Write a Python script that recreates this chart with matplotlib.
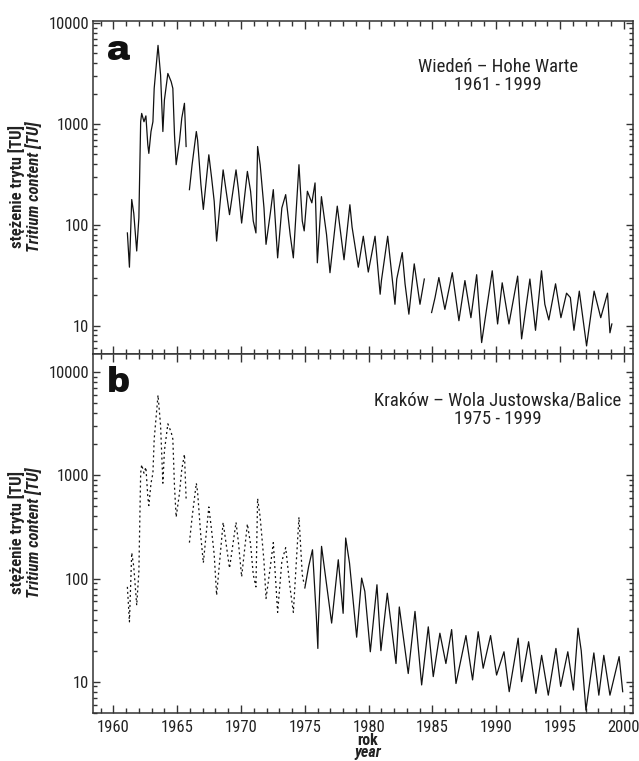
import numpy as np
import matplotlib
matplotlib.use("Agg")
import matplotlib.pyplot as plt
from matplotlib.ticker import LogLocator, FixedLocator, NullFormatter, MultipleLocator
from matplotlib import font_manager

# ---------------- data (turning points) ----------------
vienna_t = [1961.10, 1961.26, 1961.44, 1961.60, 1961.83, 1962.00, 1962.14, 1962.22, 1962.40, 1962.55,
            1962.70, 1962.78, 1962.95, 1963.10, 1963.20, 1963.50, 1963.70, 1963.88, 1964.00, 1964.27,
            1964.53, 1964.66, 1964.79, 1964.92, 1965.18, 1965.36, 1965.57, 1965.70, 1965.85, 1965.96,
            1966.17, 1966.50, 1966.60, 1966.86, 1967.05, 1967.48, 1967.70, 1967.90, 1968.09, 1968.60,
            1969.10, 1969.61, 1969.80, 1970.05, 1970.50, 1970.75, 1970.96, 1971.17, 1971.30, 1971.50,
            1971.80, 1971.96, 1972.30, 1972.53, 1972.87, 1973.20, 1973.50, 1973.85, 1974.10, 1974.54,
            1974.80, 1974.95, 1975.20, 1975.55, 1975.80, 1975.98, 1976.20, 1976.30, 1976.70, 1976.97,
            1977.54, 1978.07, 1978.53, 1978.70, 1979.19, 1979.58, 1979.97, 1980.50, 1980.90, 1981.00,
            1981.49, 1982.06, 1982.20, 1982.63, 1982.85, 1983.15, 1983.57, 1984.02, 1984.36, 1984.65,
            1984.93, 1985.20, 1985.50, 1985.97, 1986.55, 1987.07, 1987.54, 1988.01, 1988.46, 1988.85,
            1989.68, 1990.10, 1990.46, 1990.99, 1991.67, 1991.98, 1992.63, 1993.07, 1993.54, 1993.80,
            1994.11, 1994.64, 1995.06, 1995.50, 1995.80, 1996.08, 1996.50, 1997.07, 1997.66, 1998.18,
            1998.71, 1998.90, 1999.05, 1999.15, 1999.27]
vienna_v = [83, 38, 178, 130, 55, 117, 1050, 1270, 1050, 1200,
            620, 510, 840, 1050, 2250, 6000, 3050, 840, 1725, 3160,
            2620, 2250, 780, 394, 670, 1140, 1600, 597, np.nan, 223,
            394, 840, 690, 250, 142, 494, 290, 171, 69, 350,
            126, 350, 223, 104, 338, 215, 109, 83, 597, 394,
            147, 64, 131, 223, 47, 147, 199, 80, 47, 394,
            109, 87, 215, 165, 260, 42, 117, 190, 80, 33.5,
            153, 45, 158, 95, 38, 77, 34, 77, 20.5, 28,
            77, 16.3, 29, 53, 26, 13, 41, 16.3, 29, np.nan,
            13.5, 19, 30, 14.5, 33.5, 11.2, 28, 12, 32, 6.8,
            35, 10.4, 26.6, 10.4, 31, 7.4, 29, 9, 35, 16.3,
            11.4, 26, 12, 21, 19, 9, 22, 6.3, 22, 12,
            21, 8.5, 10.4, np.nan, 11.2]

krakow_t = [1975.00, 1975.30, 1975.60, 1975.90, 1976.02, 1976.05, 1976.31, 1977.10, 1977.62, 1978.00,
            1978.20, 1978.50, 1979.06, 1979.45, 1979.70, 1980.13, 1980.65, 1980.96, 1981.46, 1982.14,
            1982.40, 1983.10, 1983.63, 1984.15, 1984.67, 1985.06, 1985.58, 1986.05, 1986.50, 1986.84,
            1987.62, 1988.14, 1988.58, 1988.97, 1989.55, 1990.02, 1990.60, 1991.01, 1991.71, 1991.98,
            1992.53, 1993.10, 1993.55, 1994.07, 1994.67, 1995.04, 1995.60, 1996.04, 1996.40, 1996.65,
            1997.02, 1997.64, 1998.03, 1998.42, 1998.90, 1999.62, 1999.90]
krakow_v = [81, 131, 190, 43, 21, 34, 205, 37, 152, 46,
            247, 141, 27, 101, 75, 19.5, 87, 20, 72, 15,
            53, 12, 48, 9.3, 34, 11.2, 29.5, 15, 32, 9.6,
            28, 10.4, 30.5, 13.5, 28, 11.6, 19.5, 8, 26.4, 10,
            24.4, 7.7, 18, 7.4, 21, 9, 19.5, 8.3, 33, 20,
            5.3, 19, 7.4, 18, 7.4, 17.5, 8]

ytick_vals = [10, 100, 1000, 10000]
ytick_labels = ["10", "100", "1000", "10000"]
xtick_vals = [1960, 1965, 1970, 1975, 1980, 1985, 1990, 1995, 2000]

# ---------------- fonts ----------------
fonts = font_manager.fontManager.ttflist
have = {f.name for f in fonts}

def wnum(w):
    if isinstance(w, (int, float)):
        return w
    return {'bold': 700, 'heavy': 800, 'black': 900, 'semibold': 600}.get(str(w).lower(), 400)

def pick(cands, bold=False, italic=False):
    for fam in cands:
        for f in fonts:
            if f.name != fam:
                continue
            isb = wnum(f.weight) >= 600
            isi = f.style != 'normal'
            if isb == bold and isi == italic:
                return fam
    return None

cond_list = ['Liberation Sans Narrow', 'Arial Narrow', 'Roboto Condensed', 'Archivo Narrow',
             'PT Sans Narrow', 'Asap Condensed', 'Barlow Semi Condensed']
reg_fam = pick(cond_list) or 'Liberation Sans'
bold_fam = pick(cond_list, bold=True) or 'Liberation Sans'
bi_fam = pick(cond_list, bold=True, italic=True) or bold_fam
k_reg = 1.0 if reg_fam != 'Liberation Sans' else 0.82
k_bold = 1.0 if bold_fam != 'Liberation Sans' else 0.82
letter_fam = 'Archivo Black' if 'Archivo Black' in have else 'DejaVu Sans'

plt.rcParams['font.family'] = [reg_fam, 'DejaVu Sans']

W, H = 639, 761
fig = plt.figure(figsize=(W / 100, H / 100), dpi=100)

left = 93.3 / W
width = (633.3 - 93.3) / W
ax_a = fig.add_axes([left, 1 - 353.5 / H, width, (353.5 - 21) / H])
ax_b = fig.add_axes([left, 1 - 713 / H, width, (713 - 353.5) / H], sharex=ax_a)

vt = np.array(vienna_t)
vv = np.array(vienna_v, dtype=float)
ax_a.plot(vt, vv, color='#111111', lw=0.9)

mask = vt <= 1975.0
ax_b.plot(vt[mask], vv[mask], color='#111111', lw=0.9, linestyle=(0, (1.6, 2.4)))
ax_b.plot(krakow_t, krakow_v, color='#111111', lw=0.9)

ax_a.set_ylim(5.3, 10465)
ax_b.set_ylim(4.97, 15190)

for ax in (ax_a, ax_b):
    ax.set_yscale('log')
    ax.set_xlim(1958.43, 2000.73)
    ax.yaxis.set_major_locator(FixedLocator(ytick_vals))
    ax.set_yticklabels(ytick_labels)
    ax.yaxis.set_minor_locator(LogLocator(base=10, subs=np.arange(2, 10)))
    ax.yaxis.set_minor_formatter(NullFormatter())
    ax.xaxis.set_major_locator(FixedLocator(xtick_vals))
    ax.xaxis.set_minor_locator(MultipleLocator(1))
    ax.tick_params(axis='both', which='both', direction='in', top=True, right=True,
                   labelsize=12.0 * k_reg, width=1.0, color='#333333', labelcolor='#222222')
    ax.tick_params(axis='x', which='major', length=6)
    ax.tick_params(axis='x', which='minor', length=3.5)
    ax.tick_params(axis='y', which='major', length=5, pad=3)
    ax.tick_params(axis='y', which='minor', length=3)
    ax.tick_params(axis='x', pad=5)
    for s in ax.spines.values():
        s.set_linewidth(1.1)
        s.set_color('#333333')

ax_b.set_xticks(xtick_vals)
ax_b.set_xticklabels([str(v) for v in xtick_vals])
plt.setp(ax_a.get_xticklabels(), visible=False)

lab = 12.0 * k_bold
bold_kw = dict(family=[bold_fam, 'DejaVu Sans'], fontweight='bold', fontsize=lab, color='#222222')
bi_kw = dict(family=[bi_fam, 'DejaVu Sans'], fontweight='bold', fontstyle='italic', fontsize=lab,
             color='#222222')

# y labels (two lines: bold + bold italic)
for ax, yc in ((ax_a, 187), (ax_b, 533)):
    fig.text(17 / W, 1 - yc / H, "stężenie trytu [TU]", rotation=90, ha='center', va='center',
             **bold_kw)
    fig.text(34 / W, 1 - yc / H, "Tritium content [TU]", rotation=90, ha='center', va='center',
             **bi_kw)

# x label
xl = 11.5 * k_bold
fig.text(368 / W, 1 - 745 / H, "rok", ha='center', va='baseline',
         **{**bold_kw, 'fontsize': xl})
fig.text(368 / W, 1 - 757.5 / H, "year", ha='center', va='baseline',
         **{**bi_kw, 'fontsize': xl})

# panel letters
letter_font = dict(family=[letter_fam, 'DejaVu Sans'], fontweight='bold', fontsize=25,
                   color='#111111')
fig.text(107 / W, 1 - 60 / H, "a", ha='left', va='baseline', **letter_font)
fig.text(107 / W, 1 - 392 / H, "b", ha='left', va='baseline', **letter_font)

# station labels
st_kw = dict(family=[reg_fam, 'DejaVu Sans'], fontsize=13.5 * k_reg, linespacing=1.05,
             color='#222222')
fig.text(498 / W, 1 - 76 / H, "Wiedeń – Hohe Warte\n1961 - 1999", ha='center', va='center',
         **st_kw)
fig.text(497.5 / W, 1 - 410 / H, "Kraków – Wola Justowska/Balice\n1975 - 1999", ha='center',
         va='center', **st_kw)

fig.savefig("out.png", dpi=100)
